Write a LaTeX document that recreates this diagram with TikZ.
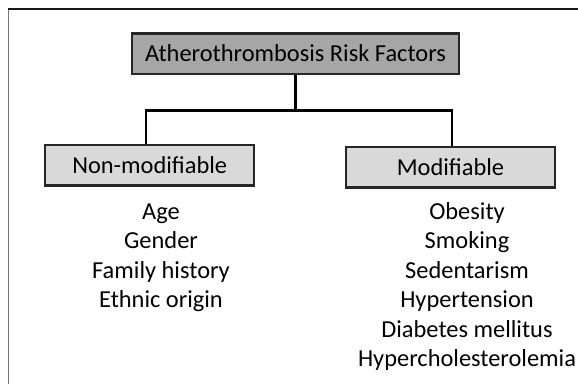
\documentclass[tikz,border=0pt]{standalone}
\usepackage{fontspec}
\setmainfont{Carlito}
\usetikzlibrary{positioning}

\begin{document}
\begin{tikzpicture}[
  x=1pt, y=-1pt,
  topbox/.style={rectangle, draw=black!85, line width=2.3pt, fill=black!35,
                 minimum width=327pt, minimum height=40.5pt, inner sep=0pt,
                 text height=16pt, text depth=0pt},
  catbox/.style={rectangle, draw=black!85, line width=2.3pt, fill=black!15,
                 minimum width=209pt, minimum height=40.5pt, inner sep=0pt,
                 text height=16pt, text depth=0pt},
  items/.style={align=center, inner sep=0pt, anchor=base},
  conn/.style={line width=2.5pt, draw=black},
  font=\fontsize{24.4pt}{29.5pt}\selectfont,
]
\clip (0,0) rectangle (578,383);
\useasboundingbox (0,0) rectangle (578,383);

%% Outer frame (cut off at right and bottom)
\draw[black!55, line width=1.5pt] (8.5,390) -- (8.5,9.3);
\draw[black!90, line width=1.8pt] (7.8,9.3) -- (590,9.3);

%% Boxes
\node[topbox] (risk)   at (295.5,53.7)  {Atherothrombosis Risk Factors};
\node[catbox] (nonmod) at (149.7,165.3) {Non-modifiable};
\node[catbox] (mod)    at (450.5,167.3) {Modifiable};

%% Lists of factors (base = last line)
\node[items] (nonlist) at (161,307.5)
  {Age\\Gender\\Family history\\Ethnic origin};
\node[items] (modlist) at (467,366.7)
  {Obesity\\Smoking\\Sedentarism\\Hypertension\\Diabetes mellitus\\Hypercholesterolemia};

%% Tree connectors
\draw[conn] (risk.south) -- ++(0,35.3) coordinate (fork);
\draw[conn] (fork) -| ([xshift=-3.7pt]nonmod.north);
\draw[conn] (fork) -| ([xshift=1.5pt]mod.north);
\end{tikzpicture}
\end{document}
